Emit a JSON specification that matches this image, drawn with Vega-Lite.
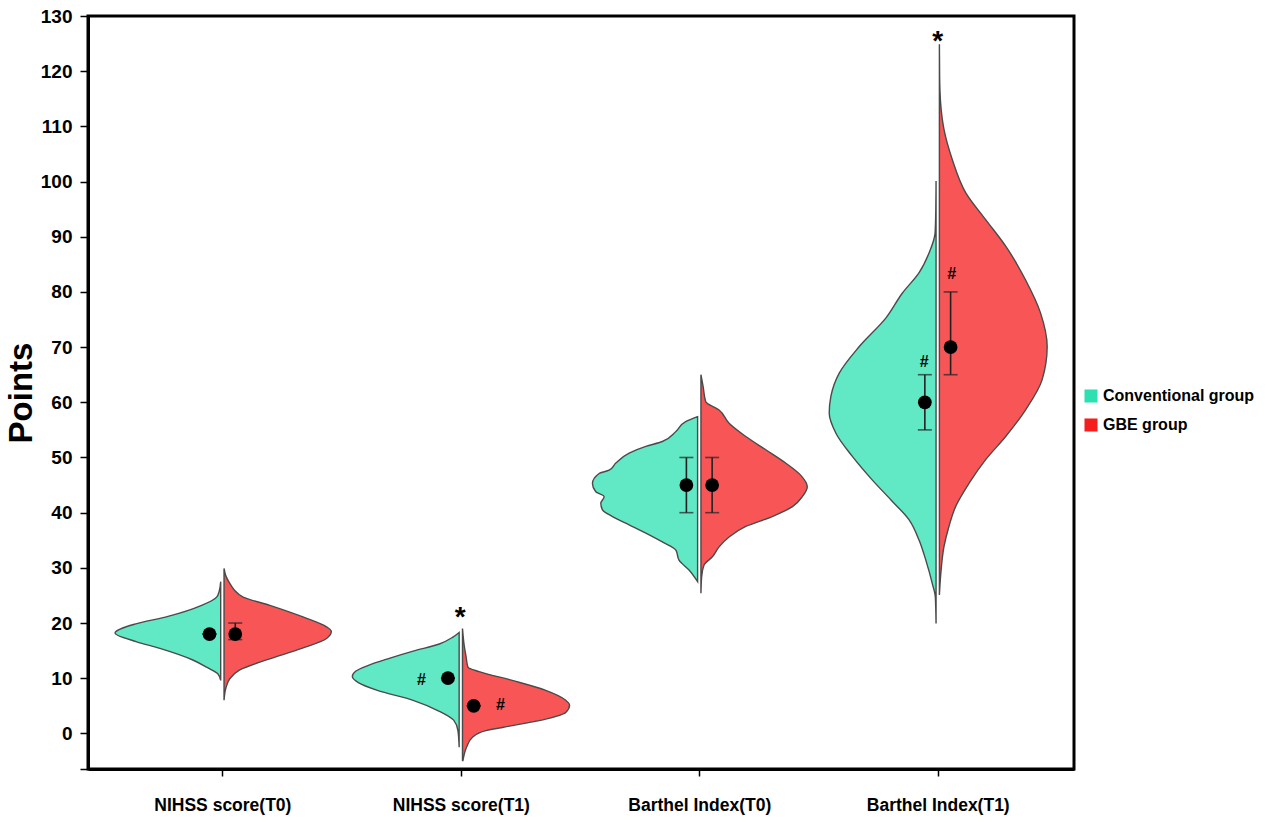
{
  "$schema": "https://vega.github.io/schema/vega-lite/v6.json",
  "width": 986,
  "height": 753,
  "autosize": "none",
  "padding": {"left": 88, "top": 16, "right": 210, "bottom": 53},
  "background": "white",
  "config": {
    "view": {"stroke": "black", "strokeWidth": 3},
    "font": "Liberation Sans"
  },
  "datasets": {
    "violin": [
      {"c": 1, "g": "Conventional group", "v": 27.5, "x": 0.993, "i": 0.993},
      {"c": 1, "g": "Conventional group", "v": 25.8, "x": 0.987, "i": 0.993},
      {"c": 1, "g": "Conventional group", "v": 24.7, "x": 0.976, "i": 0.993},
      {"c": 1, "g": "Conventional group", "v": 23.2, "x": 0.913, "i": 0.993},
      {"c": 1, "g": "Conventional group", "v": 21.2, "x": 0.772, "i": 0.993},
      {"c": 1, "g": "Conventional group", "v": 19.8, "x": 0.633, "i": 0.993},
      {"c": 1, "g": "Conventional group", "v": 18.2, "x": 0.55, "i": 0.993},
      {"c": 1, "g": "Conventional group", "v": 16.6, "x": 0.641, "i": 0.993},
      {"c": 1, "g": "Conventional group", "v": 15.4, "x": 0.738, "i": 0.993},
      {"c": 1, "g": "Conventional group", "v": 13.3, "x": 0.876, "i": 0.993},
      {"c": 1, "g": "Conventional group", "v": 12.0, "x": 0.934, "i": 0.993},
      {"c": 1, "g": "Conventional group", "v": 10.8, "x": 0.981, "i": 0.993},
      {"c": 1, "g": "Conventional group", "v": 9.6, "x": 0.993, "i": 0.993},

      {"c": 1, "g": "GBE group", "v": 29.9, "x": 1.007, "i": 1.007},
      {"c": 1, "g": "GBE group", "v": 28.5, "x": 1.015, "i": 1.007},
      {"c": 1, "g": "GBE group", "v": 27.2, "x": 1.031, "i": 1.007},
      {"c": 1, "g": "GBE group", "v": 26.0, "x": 1.05, "i": 1.007},
      {"c": 1, "g": "GBE group", "v": 24.7, "x": 1.087, "i": 1.007},
      {"c": 1, "g": "GBE group", "v": 23.2, "x": 1.199, "i": 1.007},
      {"c": 1, "g": "GBE group", "v": 21.1, "x": 1.338, "i": 1.007},
      {"c": 1, "g": "GBE group", "v": 19.3, "x": 1.437, "i": 1.007},
      {"c": 1, "g": "GBE group", "v": 18.5, "x": 1.457, "i": 1.007},
      {"c": 1, "g": "GBE group", "v": 17.2, "x": 1.437, "i": 1.007},
      {"c": 1, "g": "GBE group", "v": 15.4, "x": 1.333, "i": 1.007},
      {"c": 1, "g": "GBE group", "v": 13.4, "x": 1.191, "i": 1.007},
      {"c": 1, "g": "GBE group", "v": 11.5, "x": 1.073, "i": 1.007},
      {"c": 1, "g": "GBE group", "v": 9.9, "x": 1.031, "i": 1.007},
      {"c": 1, "g": "GBE group", "v": 8.4, "x": 1.016, "i": 1.007},
      {"c": 1, "g": "GBE group", "v": 6.0, "x": 1.007, "i": 1.007},

      {"c": 2, "g": "Conventional group", "v": 18.3, "x": 1.993, "i": 1.993},
      {"c": 2, "g": "Conventional group", "v": 17.4, "x": 1.965, "i": 1.993},
      {"c": 2, "g": "Conventional group", "v": 16.2, "x": 1.91, "i": 1.993},
      {"c": 2, "g": "Conventional group", "v": 14.9, "x": 1.8, "i": 1.993},
      {"c": 2, "g": "Conventional group", "v": 13.6, "x": 1.7, "i": 1.993},
      {"c": 2, "g": "Conventional group", "v": 12.3, "x": 1.61, "i": 1.993},
      {"c": 2, "g": "Conventional group", "v": 11.3, "x": 1.56, "i": 1.993},
      {"c": 2, "g": "Conventional group", "v": 10.3, "x": 1.545, "i": 1.993},
      {"c": 2, "g": "Conventional group", "v": 9.2, "x": 1.57, "i": 1.993},
      {"c": 2, "g": "Conventional group", "v": 7.8, "x": 1.65, "i": 1.993},
      {"c": 2, "g": "Conventional group", "v": 6.0, "x": 1.8, "i": 1.993},
      {"c": 2, "g": "Conventional group", "v": 4.0, "x": 1.91, "i": 1.993},
      {"c": 2, "g": "Conventional group", "v": 2.4, "x": 1.97, "i": 1.993},
      {"c": 2, "g": "Conventional group", "v": 0.5, "x": 1.988, "i": 1.993},
      {"c": 2, "g": "Conventional group", "v": -2.5, "x": 1.993, "i": 1.993},

      {"c": 2, "g": "GBE group", "v": 19.0, "x": 2.007, "i": 2.007},
      {"c": 2, "g": "GBE group", "v": 16.0, "x": 2.014, "i": 2.007},
      {"c": 2, "g": "GBE group", "v": 13.9, "x": 2.022, "i": 2.007},
      {"c": 2, "g": "GBE group", "v": 12.0, "x": 2.03, "i": 2.007},
      {"c": 2, "g": "GBE group", "v": 11.2, "x": 2.077, "i": 2.007},
      {"c": 2, "g": "GBE group", "v": 9.6, "x": 2.216, "i": 2.007},
      {"c": 2, "g": "GBE group", "v": 7.8, "x": 2.356, "i": 2.007},
      {"c": 2, "g": "GBE group", "v": 6.0, "x": 2.44, "i": 2.007},
      {"c": 2, "g": "GBE group", "v": 5.1, "x": 2.456, "i": 2.007},
      {"c": 2, "g": "GBE group", "v": 3.8, "x": 2.44, "i": 2.007},
      {"c": 2, "g": "GBE group", "v": 2.6, "x": 2.356, "i": 2.007},
      {"c": 2, "g": "GBE group", "v": 1.4, "x": 2.216, "i": 2.007},
      {"c": 2, "g": "GBE group", "v": 0.5, "x": 2.105, "i": 2.007},
      {"c": 2, "g": "GBE group", "v": -0.7, "x": 2.049, "i": 2.007},
      {"c": 2, "g": "GBE group", "v": -2.5, "x": 2.024, "i": 2.007},
      {"c": 2, "g": "GBE group", "v": -4.9, "x": 2.009, "i": 2.007},

      {"c": 3, "g": "Conventional group", "v": 57.4, "x": 2.993, "i": 2.993},
      {"c": 3, "g": "Conventional group", "v": 56.5, "x": 2.943, "i": 2.993},
      {"c": 3, "g": "Conventional group", "v": 54.7, "x": 2.902, "i": 2.993},
      {"c": 3, "g": "Conventional group", "v": 52.9, "x": 2.845, "i": 2.993},
      {"c": 3, "g": "Conventional group", "v": 52.0, "x": 2.776, "i": 2.993},
      {"c": 3, "g": "Conventional group", "v": 50.8, "x": 2.706, "i": 2.993},
      {"c": 3, "g": "Conventional group", "v": 49.0, "x": 2.65, "i": 2.993},
      {"c": 3, "g": "Conventional group", "v": 47.7, "x": 2.622, "i": 2.993},
      {"c": 3, "g": "Conventional group", "v": 47.1, "x": 2.58, "i": 2.993},
      {"c": 3, "g": "Conventional group", "v": 45.3, "x": 2.552, "i": 2.993},
      {"c": 3, "g": "Conventional group", "v": 43.8, "x": 2.566, "i": 2.993},
      {"c": 3, "g": "Conventional group", "v": 42.9, "x": 2.601, "i": 2.993},
      {"c": 3, "g": "Conventional group", "v": 41.7, "x": 2.587, "i": 2.993},
      {"c": 3, "g": "Conventional group", "v": 40.5, "x": 2.594, "i": 2.993},
      {"c": 3, "g": "Conventional group", "v": 39.3, "x": 2.636, "i": 2.993},
      {"c": 3, "g": "Conventional group", "v": 37.8, "x": 2.706, "i": 2.993},
      {"c": 3, "g": "Conventional group", "v": 36.3, "x": 2.776, "i": 2.993},
      {"c": 3, "g": "Conventional group", "v": 34.7, "x": 2.845, "i": 2.993},
      {"c": 3, "g": "Conventional group", "v": 33.2, "x": 2.902, "i": 2.993},
      {"c": 3, "g": "Conventional group", "v": 31.4, "x": 2.915, "i": 2.993},
      {"c": 3, "g": "Conventional group", "v": 29.6, "x": 2.957, "i": 2.993},
      {"c": 3, "g": "Conventional group", "v": 27.5, "x": 2.993, "i": 2.993},

      {"c": 3, "g": "GBE group", "v": 65.0, "x": 3.007, "i": 3.007},
      {"c": 3, "g": "GBE group", "v": 62.9, "x": 3.016, "i": 3.007},
      {"c": 3, "g": "GBE group", "v": 60.1, "x": 3.027, "i": 3.007},
      {"c": 3, "g": "GBE group", "v": 58.6, "x": 3.083, "i": 3.007},
      {"c": 3, "g": "GBE group", "v": 56.2, "x": 3.125, "i": 3.007},
      {"c": 3, "g": "GBE group", "v": 53.8, "x": 3.195, "i": 3.007},
      {"c": 3, "g": "GBE group", "v": 51.4, "x": 3.279, "i": 3.007},
      {"c": 3, "g": "GBE group", "v": 49.0, "x": 3.362, "i": 3.007},
      {"c": 3, "g": "GBE group", "v": 46.8, "x": 3.425, "i": 3.007},
      {"c": 3, "g": "GBE group", "v": 44.7, "x": 3.453, "i": 3.007},
      {"c": 3, "g": "GBE group", "v": 42.9, "x": 3.432, "i": 3.007},
      {"c": 3, "g": "GBE group", "v": 41.1, "x": 3.391, "i": 3.007},
      {"c": 3, "g": "GBE group", "v": 39.3, "x": 3.306, "i": 3.007},
      {"c": 3, "g": "GBE group", "v": 37.5, "x": 3.195, "i": 3.007},
      {"c": 3, "g": "GBE group", "v": 35.6, "x": 3.125, "i": 3.007},
      {"c": 3, "g": "GBE group", "v": 33.8, "x": 3.083, "i": 3.007},
      {"c": 3, "g": "GBE group", "v": 32.0, "x": 3.055, "i": 3.007},
      {"c": 3, "g": "GBE group", "v": 30.5, "x": 3.02, "i": 3.007},
      {"c": 3, "g": "GBE group", "v": 28.4, "x": 3.01, "i": 3.007},
      {"c": 3, "g": "GBE group", "v": 25.4, "x": 3.007, "i": 3.007},

      {"c": 4, "g": "Conventional group", "v": 100.1, "x": 3.993, "i": 3.993},
      {"c": 4, "g": "Conventional group", "v": 95.0, "x": 3.992, "i": 3.993},
      {"c": 4, "g": "Conventional group", "v": 90.7, "x": 3.989, "i": 3.993},
      {"c": 4, "g": "Conventional group", "v": 87.1, "x": 3.964, "i": 3.993},
      {"c": 4, "g": "Conventional group", "v": 83.5, "x": 3.922, "i": 3.993},
      {"c": 4, "g": "Conventional group", "v": 79.8, "x": 3.852, "i": 3.993},
      {"c": 4, "g": "Conventional group", "v": 75.3, "x": 3.783, "i": 3.993},
      {"c": 4, "g": "Conventional group", "v": 70.1, "x": 3.671, "i": 3.993},
      {"c": 4, "g": "Conventional group", "v": 65.3, "x": 3.587, "i": 3.993},
      {"c": 4, "g": "Conventional group", "v": 61.1, "x": 3.552, "i": 3.993},
      {"c": 4, "g": "Conventional group", "v": 58.0, "x": 3.545, "i": 3.993},
      {"c": 4, "g": "Conventional group", "v": 54.4, "x": 3.573, "i": 3.993},
      {"c": 4, "g": "Conventional group", "v": 50.2, "x": 3.642, "i": 3.993},
      {"c": 4, "g": "Conventional group", "v": 45.9, "x": 3.726, "i": 3.993},
      {"c": 4, "g": "Conventional group", "v": 42.3, "x": 3.804, "i": 3.993},
      {"c": 4, "g": "Conventional group", "v": 38.7, "x": 3.88, "i": 3.993},
      {"c": 4, "g": "Conventional group", "v": 35.0, "x": 3.922, "i": 3.993},
      {"c": 4, "g": "Conventional group", "v": 31.4, "x": 3.95, "i": 3.993},
      {"c": 4, "g": "Conventional group", "v": 27.2, "x": 3.977, "i": 3.993},
      {"c": 4, "g": "Conventional group", "v": 24.7, "x": 3.99, "i": 3.993},
      {"c": 4, "g": "Conventional group", "v": 19.9, "x": 3.993, "i": 3.993},

      {"c": 4, "g": "GBE group", "v": 124.9, "x": 4.007, "i": 4.007},
      {"c": 4, "g": "GBE group", "v": 119.0, "x": 4.008, "i": 4.007},
      {"c": 4, "g": "GBE group", "v": 114.3, "x": 4.012, "i": 4.007},
      {"c": 4, "g": "GBE group", "v": 109.5, "x": 4.026, "i": 4.007},
      {"c": 4, "g": "GBE group", "v": 104.0, "x": 4.061, "i": 4.007},
      {"c": 4, "g": "GBE group", "v": 98.0, "x": 4.117, "i": 4.007},
      {"c": 4, "g": "GBE group", "v": 93.1, "x": 4.201, "i": 4.007},
      {"c": 4, "g": "GBE group", "v": 88.3, "x": 4.285, "i": 4.007},
      {"c": 4, "g": "GBE group", "v": 82.2, "x": 4.368, "i": 4.007},
      {"c": 4, "g": "GBE group", "v": 76.2, "x": 4.431, "i": 4.007},
      {"c": 4, "g": "GBE group", "v": 70.1, "x": 4.459, "i": 4.007},
      {"c": 4, "g": "GBE group", "v": 64.1, "x": 4.438, "i": 4.007},
      {"c": 4, "g": "GBE group", "v": 58.6, "x": 4.368, "i": 4.007},
      {"c": 4, "g": "GBE group", "v": 53.8, "x": 4.285, "i": 4.007},
      {"c": 4, "g": "GBE group", "v": 49.6, "x": 4.201, "i": 4.007},
      {"c": 4, "g": "GBE group", "v": 45.3, "x": 4.131, "i": 4.007},
      {"c": 4, "g": "GBE group", "v": 41.1, "x": 4.075, "i": 4.007},
      {"c": 4, "g": "GBE group", "v": 37.5, "x": 4.047, "i": 4.007},
      {"c": 4, "g": "GBE group", "v": 33.8, "x": 4.026, "i": 4.007},
      {"c": 4, "g": "GBE group", "v": 29.0, "x": 4.013, "i": 4.007},
      {"c": 4, "g": "GBE group", "v": 25.1, "x": 4.007, "i": 4.007}
    ],
    "stats": [
      {"c": 1, "g": "Conventional group", "xp": 0.946, "mean": 18, "lo": 18, "hi": 18},
      {"c": 1, "g": "GBE group", "xp": 1.054, "mean": 18, "lo": 17, "hi": 20},
      {"c": 2, "g": "Conventional group", "xp": 1.946, "mean": 10, "lo": 10, "hi": 10},
      {"c": 2, "g": "GBE group", "xp": 2.054, "mean": 5, "lo": 5, "hi": 5},
      {"c": 3, "g": "Conventional group", "xp": 2.946, "mean": 45, "lo": 40, "hi": 50},
      {"c": 3, "g": "GBE group", "xp": 3.054, "mean": 45, "lo": 40, "hi": 50},
      {"c": 4, "g": "Conventional group", "xp": 3.946, "mean": 60, "lo": 55, "hi": 65},
      {"c": 4, "g": "GBE group", "xp": 4.054, "mean": 70, "lo": 65, "hi": 80}
    ],
    "marks": [
      {"x": 1.835, "y": 9.7, "t": "#", "k": "hash"},
      {"x": 2.166, "y": 5.2, "t": "#", "k": "hash"},
      {"x": 3.943, "y": 67.3, "t": "#", "k": "hash"},
      {"x": 4.059, "y": 83.3, "t": "#", "k": "hash"},
      {"x": 1.997, "y": 19.4, "t": "*", "k": "star"},
      {"x": 4.0, "y": 123.8, "t": "*", "k": "star"}
    ]
  },
  "layer": [
    {
      "data": {"name": "violin"},
      "mark": {"type": "area", "orient": "horizontal", "interpolate": "monotone", "stroke": "#4a4a4a", "strokeWidth": 1.4, "fillOpacity": 0.75},
      "encoding": {
        "y": {
          "field": "v", "type": "quantitative",
          "scale": {"domain": [-6.45, 130], "nice": false, "zero": false},
          "axis": {
            "title": "Points",
            "titleFont": "Liberation Sans", "titleFontSize": 33, "titleFontWeight": "bold", "titleColor": "black",
            "titlePadding": 2,
            "values": [-6.45, 0, 10, 20, 30, 40, 50, 60, 70, 80, 90, 100, 110, 120, 130],
            "labelExpr": "datum.value < 0 ? '' : datum.label",
            "labelFont": "Liberation Sans", "labelFontSize": 19, "labelFontWeight": "bold", "labelColor": "black",
            "labelPadding": 8, "tickSize": 8, "tickWidth": 1.5, "tickColor": "black",
            "domainColor": "black", "domainWidth": 3, "grid": false, "labelFlush": false, "labelOverlap": false
          }
        },
        "x": {
          "field": "x", "type": "quantitative",
          "scale": {"domain": [0.4365, 4.5715], "nice": false, "zero": false},
          "axis": {
            "title": null,
            "values": [1, 2, 3, 4],
            "labelExpr": "datum.value == 1 ? 'NIHSS score(T0)' : datum.value == 2 ? 'NIHSS score(T1)' : datum.value == 3 ? 'Barthel Index(T0)' : 'Barthel Index(T1)'",
            "labelFont": "Liberation Sans", "labelFontSize": 17.5, "labelFontWeight": "bold", "labelColor": "black",
            "labelPadding": 20, "tickSize": 7, "tickWidth": 1.5, "tickColor": "black",
            "domainColor": "black", "domainWidth": 3, "grid": false, "labelFlush": false, "labelOverlap": false,
            "encode": {"labels": {"update": {"fontSize": {"signal": "datum.value == 2 ? 15.5 : datum.value == 1 ? 17.5 : 18.5"}}}}
          }
        },
        "x2": {"field": "i"},
        "detail": {"field": "c"},
        "color": {
          "field": "g", "type": "nominal",
          "scale": {"domain": ["Conventional group", "GBE group"], "range": ["#2CE0B2", "#F51E1E"]},
          "legend": {
            "title": null, "orient": "none", "legendX": 995, "legendY": 372,
            "symbolType": "square", "symbolSize": 170, "symbolStrokeWidth": 0, "symbolOpacity": 1,
            "labelFont": "Liberation Sans", "labelFontSize": 16, "labelFontWeight": "bold",
            "rowPadding": 13, "labelOffset": 4, "padding": 0,
            "encode": {
              "labels": {"update": {"fill": {"scale": "color", "field": "value"}}},
              "symbols": {"update": {"fillOpacity": {"value": 1}, "opacity": {"value": 1}, "strokeWidth": {"value": 0}}}
            }
          }
        }
      }
    },
    {
      "data": {"name": "stats"},
      "mark": {"type": "rule", "color": "#222222", "strokeWidth": 1.6},
      "encoding": {
        "x": {"field": "xp", "type": "quantitative"},
        "y": {"field": "lo", "type": "quantitative"},
        "y2": {"field": "hi"}
      }
    },
    {
      "data": {"name": "stats"},
      "mark": {"type": "tick", "orient": "horizontal", "color": "#222222", "size": 14, "thickness": 1.6},
      "encoding": {
        "x": {"field": "xp", "type": "quantitative"},
        "y": {"field": "lo", "type": "quantitative"}
      }
    },
    {
      "data": {"name": "stats"},
      "mark": {"type": "tick", "orient": "horizontal", "color": "#222222", "size": 14, "thickness": 1.6},
      "encoding": {
        "x": {"field": "xp", "type": "quantitative"},
        "y": {"field": "hi", "type": "quantitative"}
      }
    },
    {
      "data": {"name": "stats"},
      "mark": {"type": "point", "shape": "circle", "filled": true, "color": "black", "opacity": 1, "size": 190},
      "encoding": {
        "x": {"field": "xp", "type": "quantitative"},
        "y": {"field": "mean", "type": "quantitative"}
      }
    },
    {
      "data": {"name": "marks"},
      "transform": [{"filter": "datum.k == 'hash'"}],
      "mark": {"type": "text", "font": "Liberation Sans", "fontSize": 16, "fontWeight": "bold", "color": "black", "baseline": "middle", "align": "center"},
      "encoding": {
        "x": {"field": "x", "type": "quantitative"},
        "y": {"field": "y", "type": "quantitative"},
        "text": {"field": "t"}
      }
    },
    {
      "data": {"name": "marks"},
      "transform": [{"filter": "datum.k == 'star'"}],
      "mark": {"type": "text", "font": "Liberation Sans", "fontSize": 28, "fontWeight": "bold", "color": "black", "baseline": "alphabetic", "align": "center"},
      "encoding": {
        "x": {"field": "x", "type": "quantitative"},
        "y": {"field": "y", "type": "quantitative"},
        "text": {"field": "t"}
      }
    }
  ]
}
